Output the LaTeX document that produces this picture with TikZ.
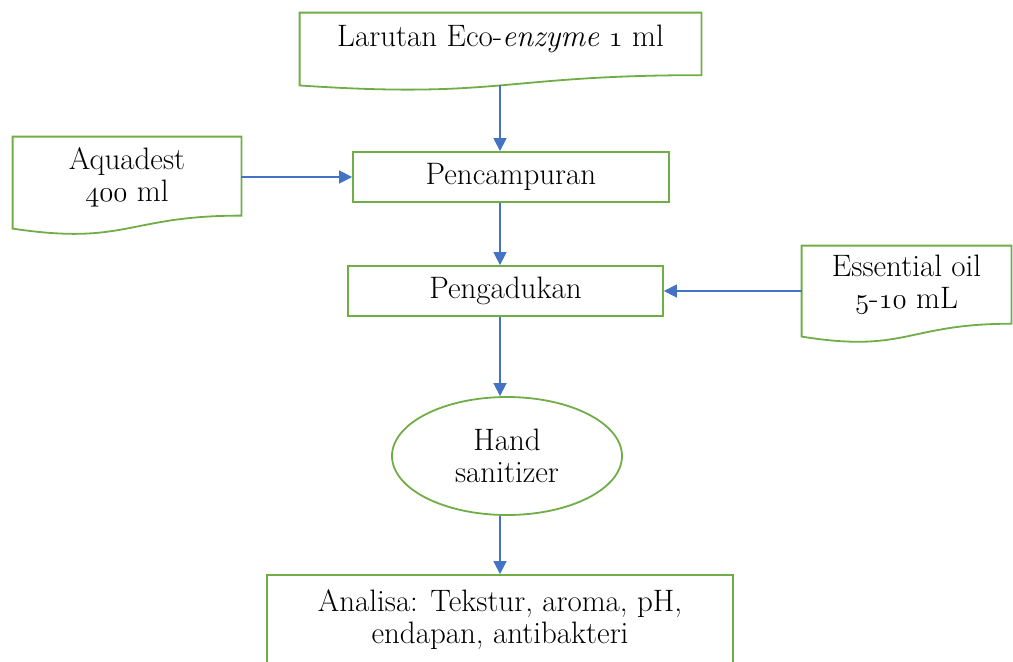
\documentclass[tikz,border=0pt]{standalone}
\usepackage{fontspec}
\usetikzlibrary{arrows.meta,calc,shapes.geometric}
\definecolor{boxgreen}{RGB}{112,173,71}
\definecolor{arrowblue}{RGB}{68,114,196}
\newcommand{\osnum}[1]{\ensuremath{\mathnormal{#1}}}
% wavy document frame round a node: #1 node, #2 full height
\newcommand{\docoutline}[2]{%
  \draw[docline] (#1.north west) -- (#1.north east)
    -- ($(#1.north east)+(0,0.802*#2)$)
    .. controls ($(#1.north)+(0,0.802*#2)$) and ($(#1.north)+(0,1.1075*#2)$)
    .. ($(#1.north west)+(0,0.934*#2)$) -- cycle;
  \coordinate (#1-foot) at ($(#1.north)+(0,0.933*#2)$);}
\begin{document}
\begin{tikzpicture}[x=0.5pt,y=-0.5pt,
  every node/.style={font=\fontsize{15.5}{16}\selectfont,align=center,text=black},
  box/.style={draw=boxgreen,line width=0.9pt,inner sep=2pt},
  oval/.style={ellipse,draw=boxgreen,line width=0.9pt,inner sep=1pt},
  doc/.style={inner sep=0pt},
  docline/.style={draw=boxgreen,line width=0.9pt},
  arrow/.style={-{Triangle[length=6.5pt,width=6.5pt]},draw=arrowblue,line width=0.75pt}
]
\useasboundingbox (0,0) rectangle (1013,661);
\clip (0,0) rectangle (1013,661);
\coordinate (axis) at (500,0);
\node[doc,minimum width=200.5pt,minimum height=26pt] (eco) at (500.5,39) {Larutan Eco-\textit{enzyme} \osnum{1} ml};
\node[doc,minimum width=114pt,minimum height=40pt] (aqua) at (127,177) {Aquadest\\\osnum{400} ml};
\node[doc,minimum width=104.5pt,minimum height=39pt] (oil) at (906.5,285) {Essential oil\\\osnum{5}-\osnum{10} mL};
\node[box,minimum width=158pt,minimum height=25pt] (mix) at (511,177) {Pencampuran};
\node[box,minimum width=157.5pt,minimum height=25pt] (stir) at (505.5,291) {Pengadukan};
\node[oval,minimum width=115pt,minimum height=59pt] (hs) at (507,456) {Hand\\sanitizer};
\node[box,minimum width=233pt,minimum height=45pt] (ana) at (500,620) {Analisa: Tekstur, aroma, pH,\\endapan, antibakteri};
\docoutline{eco}{78}
\docoutline{aqua}{98.5}
\docoutline{oil}{97.4}
\draw[arrow] (axis |- eco-foot) -- (axis |- mix.north);
\draw[arrow] (aqua.east) -- (aqua.east -| mix.west);
\draw[arrow] (axis |- mix.south) -- (axis |- stir.north);
\draw[arrow] (oil.west |- stir.east) -- (stir.east);
\draw[arrow] (axis |- stir.south) -- (axis |- hs.north);
\draw[arrow] (axis |- hs.south) -- (axis |- ana.north);
\end{tikzpicture}
\end{document}
